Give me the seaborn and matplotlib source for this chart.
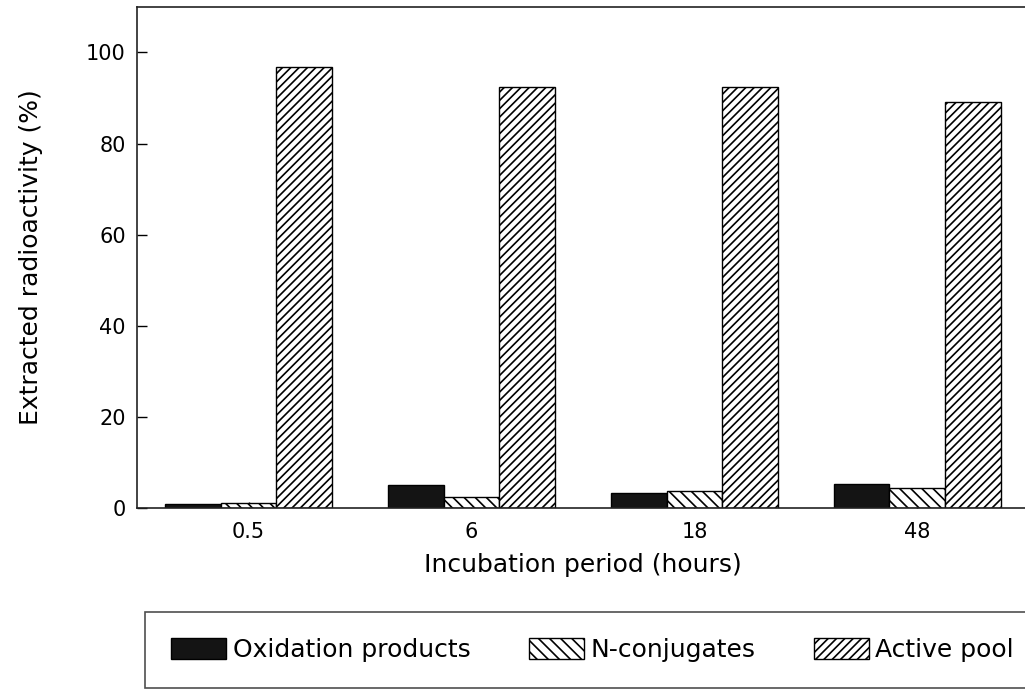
"""Extracted radioactivity by incubation period, grouped bar chart."""

import matplotlib

matplotlib.use("Agg")
import matplotlib.pyplot as plt
import pandas as pd
import seaborn as sns

periods = ["0.5", "6", "18", "48"]
oxidation_products = [0.9, 5.0, 3.3, 5.3]
n_conjugates = [1.1, 2.4, 3.6, 4.4]
active_pool = [96.9, 92.4, 92.4, 89.2]
series_names = ["Oxidation products", "N-conjugates", "Active pool"]

frame = pd.DataFrame(
    {
        "period": periods * 3,
        "value": oxidation_products + n_conjugates + active_pool,
        "series": [name for name in series_names for _ in periods],
    }
)

sns.set_theme(style="ticks")
plt.rcParams["font.family"] = ["DejaVu Sans"]
plt.rcParams["text.color"] = "black"
plt.rcParams["axes.labelcolor"] = "black"
plt.rcParams["hatch.linewidth"] = 1.2
plt.rcParams["hatch.color"] = "black"

figure = plt.figure(figsize=(10.25, 6.91), dpi=100)
axis = figure.add_axes([0.1337, 0.265, 0.87, 0.725])

sns.barplot(
    data=frame,
    x="period",
    y="value",
    hue="series",
    order=periods,
    hue_order=series_names,
    palette=["#141414", "white", "white"],
    width=0.75,
    edgecolor="black",
    linewidth=1.0,
    saturation=1,
    ax=axis,
)

hatches = [None, "\\\\\\", "////"]
for container, hatch in zip(axis.containers, hatches):
    for bar in container:
        if hatch:
            bar.set_hatch(hatch)

axis.set_xlim(-0.5, 3.5)
axis.set_ylim(0, 110)
axis.set_yticks([0, 20, 40, 60, 80, 100])
axis.tick_params(axis="both", direction="in", labelsize=15, length=7, width=1, colors="black")
axis.tick_params(axis="x", length=4, pad=10)
axis.tick_params(axis="y", pad=8)
for side in ["left", "bottom", "top"]:
    axis.spines[side].set_visible(True)
    axis.spines[side].set_color("#222222")
    axis.spines[side].set_linewidth(1.2)
axis.spines["right"].set_visible(False)

axis.set_xlabel("Incubation period (hours)", fontsize=18, labelpad=8, color="black")
axis.set_ylabel("Extracted radioactivity (%)", fontsize=18, color="black")
axis.yaxis.set_label_coords(-0.105, 0.5)

handles = [container[0] for container in axis.containers]
old_legend = axis.get_legend()
if old_legend is not None:
    old_legend.remove()
legend = figure.legend(
    handles,
    series_names,
    loc="lower left",
    bbox_to_anchor=(0.1415, 0.004),
    ncol=3,
    frameon=True,
    fancybox=False,
    edgecolor="#222222",
    fontsize=18,
    handlelength=2.2,
    handleheight=0.9,
    handletextpad=0.25,
    columnspacing=2.35,
    borderpad=1.05,
    borderaxespad=0,
)
legend.get_frame().set_linewidth(1.2)
for text in legend.get_texts():
    text.set_color("black")

figure.savefig("out.png", dpi=100)
plt.close(figure)
